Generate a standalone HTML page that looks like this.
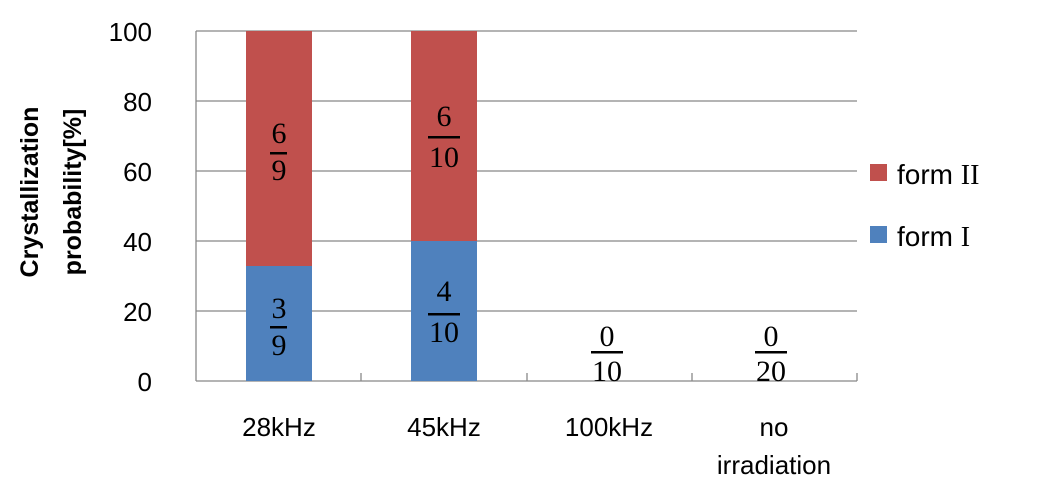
<!DOCTYPE html>
<html><head><meta charset="utf-8"><style>
body{margin:0;background:#fff;}
</style></head><body>
<svg width="1040" height="498" xmlns="http://www.w3.org/2000/svg" font-family="Liberation Sans, DejaVu Sans, sans-serif">
<rect width="1040" height="498" fill="#fff"/>
<g stroke="#888" stroke-width="1.3">
<line x1="196" y1="31" x2="857" y2="31"/>
<line x1="196" y1="101" x2="857" y2="101"/>
<line x1="196" y1="171" x2="857" y2="171"/>
<line x1="196" y1="241" x2="857" y2="241"/>
<line x1="196" y1="311" x2="857" y2="311"/>
<line x1="196" y1="381" x2="857" y2="381"/>
<line x1="196" y1="31" x2="196" y2="381"/>
<line x1="361" y1="373" x2="361" y2="381"/>
<line x1="527" y1="373" x2="527" y2="381"/>
<line x1="692" y1="373" x2="692" y2="381"/>
<line x1="857" y1="373" x2="857" y2="381"/>
</g>
<rect x="246" y="31" width="66" height="235" fill="#c0504d"/>
<rect x="246" y="266" width="66" height="115" fill="#4f81bd"/>
<rect x="411" y="31" width="66" height="210" fill="#c0504d"/>
<rect x="411" y="241" width="66" height="140" fill="#4f81bd"/>
<g font-family="Liberation Serif, DejaVu Serif, serif" font-size="30" text-anchor="middle" fill="#000">
<text x="279" y="143">6</text><rect x="270" y="152" width="17" height="2.5"/><text x="279" y="180">9</text>
<text x="279" y="318">3</text><rect x="270" y="326" width="17" height="2.5"/><text x="279" y="355">9</text>
<text x="444" y="126">6</text><rect x="428" y="136" width="32" height="2.5"/><text x="444" y="167">10</text>
<text x="444" y="301">4</text><rect x="428" y="313" width="32" height="2.5"/><text x="444" y="342">10</text>
<text x="607" y="346">0</text><rect x="591" y="351" width="32" height="2.5"/><text x="607" y="381">10</text>
<text x="771" y="346">0</text><rect x="755" y="351" width="32" height="2.5"/><text x="771" y="381">20</text>
</g>
<g font-size="26" text-anchor="end" fill="#000">
<text x="152" y="41">100</text><text x="152" y="111">80</text><text x="152" y="181">60</text>
<text x="152" y="251">40</text><text x="152" y="321">20</text><text x="152" y="391">0</text>
</g>
<g font-size="26" text-anchor="middle" fill="#000">
<text x="279" y="436">28kHz</text><text x="444" y="436">45kHz</text><text x="609" y="436">100kHz</text>
<text x="774" y="436">no</text><text x="774" y="474">irradiation</text>
</g>
<g font-size="25" font-weight="bold" text-anchor="middle" fill="#000">
<text transform="translate(38,192) rotate(-90)">Crystallization</text>
<text transform="translate(81,192) rotate(-90)">probability[%]</text>
</g>
<rect x="870" y="164" width="17" height="17" fill="#c0504d"/>
<rect x="870" y="226" width="17" height="17" fill="#4f81bd"/>
<g font-size="28" fill="#000">
<text x="897" y="184">form <tspan font-family="Liberation Serif, serif">II</tspan></text><text x="897" y="246">form <tspan font-family="Liberation Serif, serif">I</tspan></text>
</g>
</svg>
</body></html>
